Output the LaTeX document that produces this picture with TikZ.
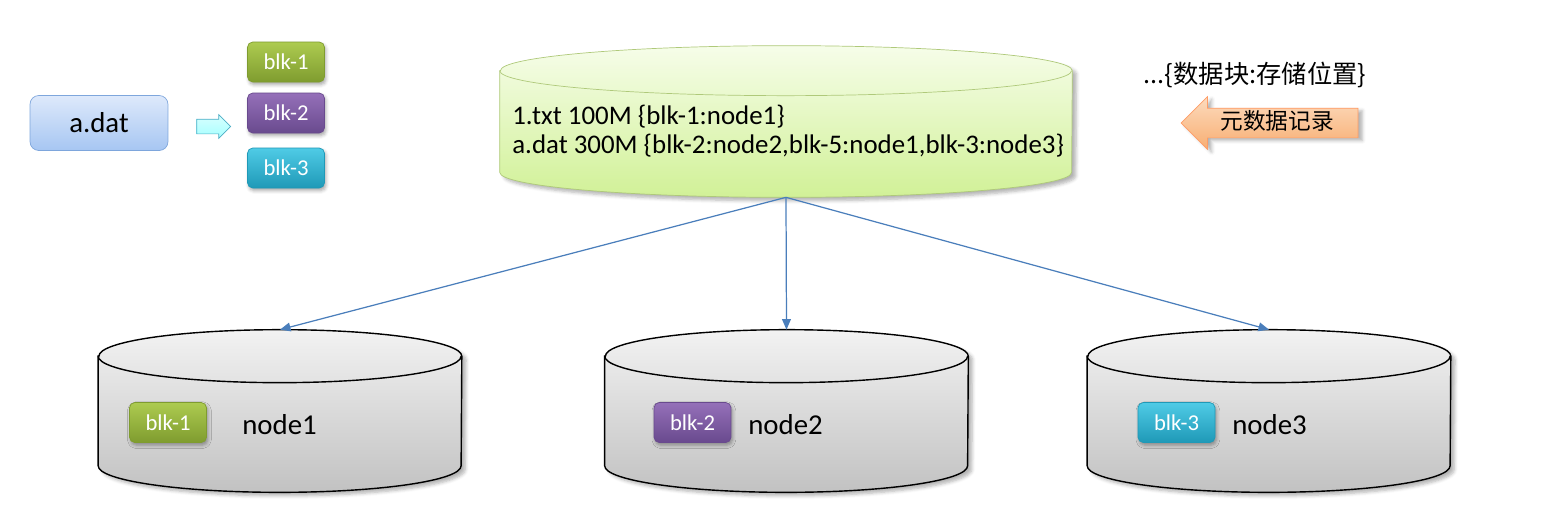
\documentclass[tikz,border=0pt]{standalone}
\usepackage{fontspec}
\setmainfont{Carlito}
\newfontfamily\cjk{Noto Sans CJK SC}
\usepackage{tikz}
\usetikzlibrary{shapes,arrows.meta,positioning,shadows.blur}
\definecolor{linkblue}{HTML}{4A7EBB}
\definecolor{filetop}{HTML}{DDE9FB}
\definecolor{filebot}{HTML}{A7C6F2}
\definecolor{fileedge}{HTML}{7EA6DC}
\definecolor{greentop}{HTML}{ADCB50}
\definecolor{greenbot}{HTML}{7F9C2F}
\definecolor{purpletop}{HTML}{9570B9}
\definecolor{purplebot}{HTML}{694A8E}
\definecolor{cyantop}{HTML}{4FCBE6}
\definecolor{cyanbot}{HTML}{1F99B7}
\definecolor{metatop}{HTML}{F6FDE9}
\definecolor{metabot}{HTML}{D1F197}
\definecolor{metaedge}{HTML}{AFC97A}
\definecolor{orangetop}{HTML}{FCDBBE}
\definecolor{orangebot}{HTML}{F8AE72}

% cylinder body on top of a plain box node: name, x radius, y radius, fill style, line style
\newcommand{\drum}[5]{%
  \shade[#4] ([yshift=-#3]#1.north west) -- ([yshift=#3]#1.south west)
    arc[start angle=180, end angle=360, x radius=#2, y radius=#3]
    -- ([yshift=-#3]#1.north east)
    arc[start angle=0, end angle=180, x radius=#2, y radius=#3] -- cycle;
  \draw[#5] ([yshift=-#3]#1.north west)
    arc[start angle=180, end angle=360, x radius=#2, y radius=#3];
}

\begin{document}
\begin{tikzpicture}[x=0.02cm, y=-0.02cm, >={Triangle[length=6pt,width=5pt]},
    file/.style={rectangle, draw=fileedge, top color=filetop, bottom color=filebot, rounded corners=5pt, minimum width=2.76cm, minimum height=1.1cm, font=\fontsize{16.4}{18}\selectfont},
    blk/.style={rectangle, rounded corners=3pt, minimum width=1.54cm, minimum height=0.8cm, text=white, font=\fontsize{12.9}{14}\selectfont, blur shadow={shadow xshift=0.8pt, shadow yshift=-1.5pt, shadow blur steps=4, shadow opacity=35}},
    blkgreen/.style={blk, draw=greenbot, top color=greentop, bottom color=greenbot},
    blkpurple/.style={blk, draw=purplebot, top color=purpletop, bottom color=purplebot},
    blkcyan/.style={blk, draw=cyanbot, top color=cyantop, bottom color=cyanbot},
    drumbox/.style={rectangle, draw=none, inner sep=0pt},
    diskfill/.style={draw=black, thick, top color=gray!10, bottom color=gray!48, blur shadow={shadow yshift=-2pt, shadow blur steps=5, shadow opacity=30}},
    diskline/.style={draw=black, thick},
    metafill/.style={draw=metaedge, top color=metatop, bottom color=metabot, blur shadow={shadow yshift=-2pt, shadow blur steps=5, shadow opacity=30}},
    metaline/.style={draw=metaedge},
    label/.style={anchor=west, inner sep=0pt, font=\fontsize{16.4}{18}\selectfont}
]
    \useasboundingbox (0,0) rectangle (1553,515);

    \node[file] (adat) at (99,123) {a.dat};
    \node[single arrow, draw=cyanbot!80, top color=cyan!15, bottom color=cyan!35, inner sep=0.14cm, single arrow head extend=0.09cm, minimum height=0.68cm] (split) at (210,126.5) {};

    \node[blkgreen] (b1) at (286,62) {blk-1};
    \node[blkpurple] (b2) at (286,113) {blk-2};
    \node[blkcyan] (b3) at (286,168) {blk-3};

    \node[drumbox, minimum width=11.44cm, minimum height=3.02cm] (meta) at (786,121.5) {};
    \drum{meta}{5.72cm}{0.5cm}{metafill}{metaline}
    \node[anchor=west, align=left, inner sep=0pt, font=\fontsize{15.3}{16.5}\selectfont] (metatxt) at (512,131)
        {1.txt 100M \{blk-1:node1\}\\a.dat 300M \{blk-2:node2,blk-5:node1,blk-3:node3\}};

    \node[font=\cjk\fontsize{14.4}{16}\selectfont, inner sep=0pt] (fmt) at (1255,75) {...\{数据块:存储位置\}};
    \node[single arrow, shape border rotate=180, draw=orange!70!red!60, top color=orangetop, bottom color=orangebot, text height=10pt, text depth=2.5pt, inner ysep=2pt, single arrow head extend=0.23cm, minimum height=3.54cm, font=\cjk\fontsize{12.9}{14}\selectfont, blur shadow={shadow yshift=-1.5pt, shadow blur steps=4, shadow opacity=30}] (record) at (1277,123) {元数据记录};

    \node[drumbox, minimum width=7.26cm, minimum height=3.24cm] (n1) at (280,411) {};
    \node[drumbox, minimum width=7.26cm, minimum height=3.24cm] (n2) at (786.5,411) {};
    \node[drumbox, minimum width=7.26cm, minimum height=3.24cm] (n3) at (1269,411) {};
    \drum{n1}{3.63cm}{0.53cm}{diskfill}{diskline}
    \drum{n2}{3.63cm}{0.53cm}{diskfill}{diskline}
    \drum{n3}{3.63cm}{0.53cm}{diskfill}{diskline}

    \node[blkgreen] (n1b) at (168,422.5) {blk-1};
    \node[label] (n1l) at (242,425) {node1};
    \node[blkpurple] (n2b) at (692.5,422.5) {blk-2};
    \node[label] (n2l) at (748,425) {node2};
    \node[blkcyan] (n3b) at (1176.5,422.5) {blk-3};
    \node[label] (n3l) at (1232,425) {node3};

    \draw[->, linkblue, line width=0.7pt] (meta.south) -- (n1.north);
    \draw[->, linkblue, line width=0.7pt] (meta.south) -- (n2.north);
    \draw[->, linkblue, line width=0.7pt] (meta.south) -- (n3.north);

\end{tikzpicture}
\end{document}
